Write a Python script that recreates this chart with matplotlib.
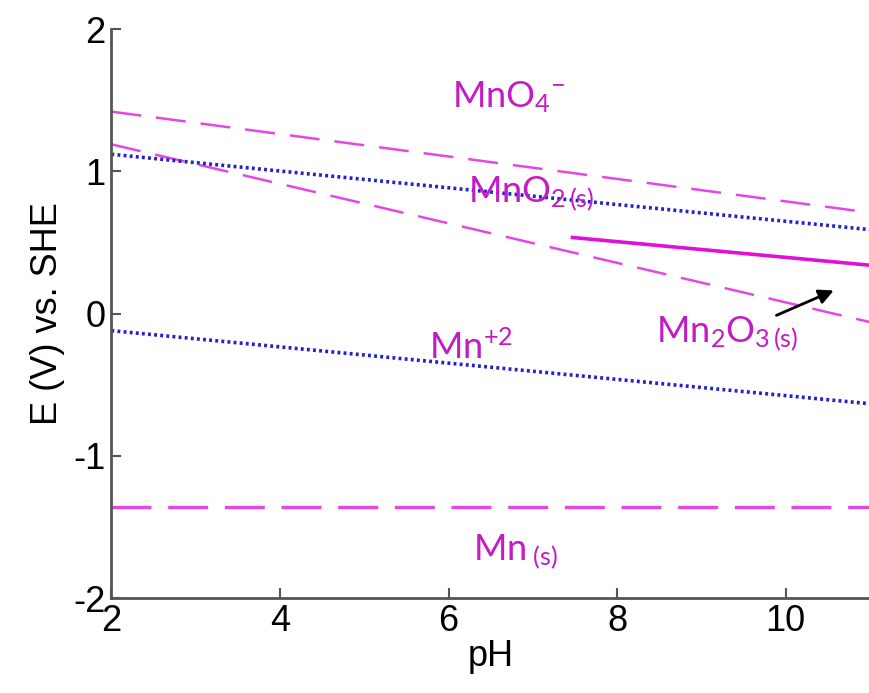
import numpy as np
import matplotlib
matplotlib.use('Agg')
import matplotlib.pyplot as plt

# pH range of the diagram
ph = [2, 11]

# boundary lines, E (V) at pH 2 and pH 11
mno4_mno2 = [1.42, 0.71]
mno2_mn2o3 = [1.19, -0.06]
mno2_mn = [1.12, 0.59]
mn2o3_ph = [7.47, 11]
mn2o3_line = [0.535, 0.34]
mn2_low = [-0.12, -0.634]
mn_s = [-1.36, -1.36]

# region labels: (text, pH, E)
labels = [
    (r'MnO$_4$$^{-}$', 6.71, 1.52),
    (r'MnO$_{2\,(s)}$', 6.98, 0.845),
    (r'Mn$^{+2}$', 6.27, -0.24),
    (r'Mn$_2$O$_{3\,(s)}$', 9.3, -0.14),
    (r'Mn$_{\;(s)}$', 6.79, -1.67),
]

mag = '#e447e4'
blue = '#2222cc'
txtcol = '#c21cc2'

plt.rcParams['mathtext.fontset'] = 'custom'
plt.rcParams['mathtext.rm'] = 'Lato'
plt.rcParams['mathtext.it'] = 'Lato'
plt.rcParams['mathtext.bf'] = 'Lato'

fig = plt.figure(figsize=(8.7, 6.93), dpi=100)
ax = fig.add_axes([0.128, 0.137, 0.872, 0.821])

ax.plot(ph, mno4_mno2, color=mag, lw=1.8, dashes=(12, 6))
ax.plot(ph, mno2_mn2o3, color=mag, lw=1.8, dashes=(12, 6))
ax.plot(ph, mno2_mn, color=blue, lw=2.6, dashes=(0.8, 0.9))
ax.plot(mn2o3_ph, mn2o3_line, color='#e010d8', lw=2.6)
ax.plot(ph, mn2_low, color=blue, lw=2.6, dashes=(0.8, 0.9))
ax.plot(ph, mn_s, color=mag, lw=2.4, dashes=(12, 5))

for txt, x, y in labels:
    ax.text(x, y, txt, color=txtcol, fontsize=26, family='Lato',
            ha='center', va='center')

ax.annotate('', xy=(10.6, 0.17), xytext=(9.86, -0.02),
            arrowprops=dict(arrowstyle='-|>', color='black', lw=2,
                            mutation_scale=22))

ax.set_xlim(2, 11)
ax.set_ylim(-2, 2)
ax.set_xticks([2, 4, 6, 8, 10])
ax.set_yticks([-2, -1, 0, 1, 2])
ax.set_xticklabels(['2', '4', '6', '8', '10'])
ax.set_yticklabels(['-2', '-1', '0', '1', '2'])
for s in ['top', 'right']:
    ax.spines[s].set_visible(False)
for s in ['left', 'bottom']:
    ax.spines[s].set_color('#555555')
    ax.spines[s].set_linewidth(2)
ax.tick_params(direction='in', length=7, width=1.5, color='#555555',
               labelsize=26, pad=4)
for lab in ax.get_xticklabels() + ax.get_yticklabels():
    lab.set_family('Liberation Sans')
ax.set_xlabel('pH', fontsize=26, family='Liberation Sans', labelpad=0)
ax.set_ylabel('E (V) vs. SHE', fontsize=26, family='Liberation Sans', labelpad=6)

fig.savefig('out.png', dpi=100)
